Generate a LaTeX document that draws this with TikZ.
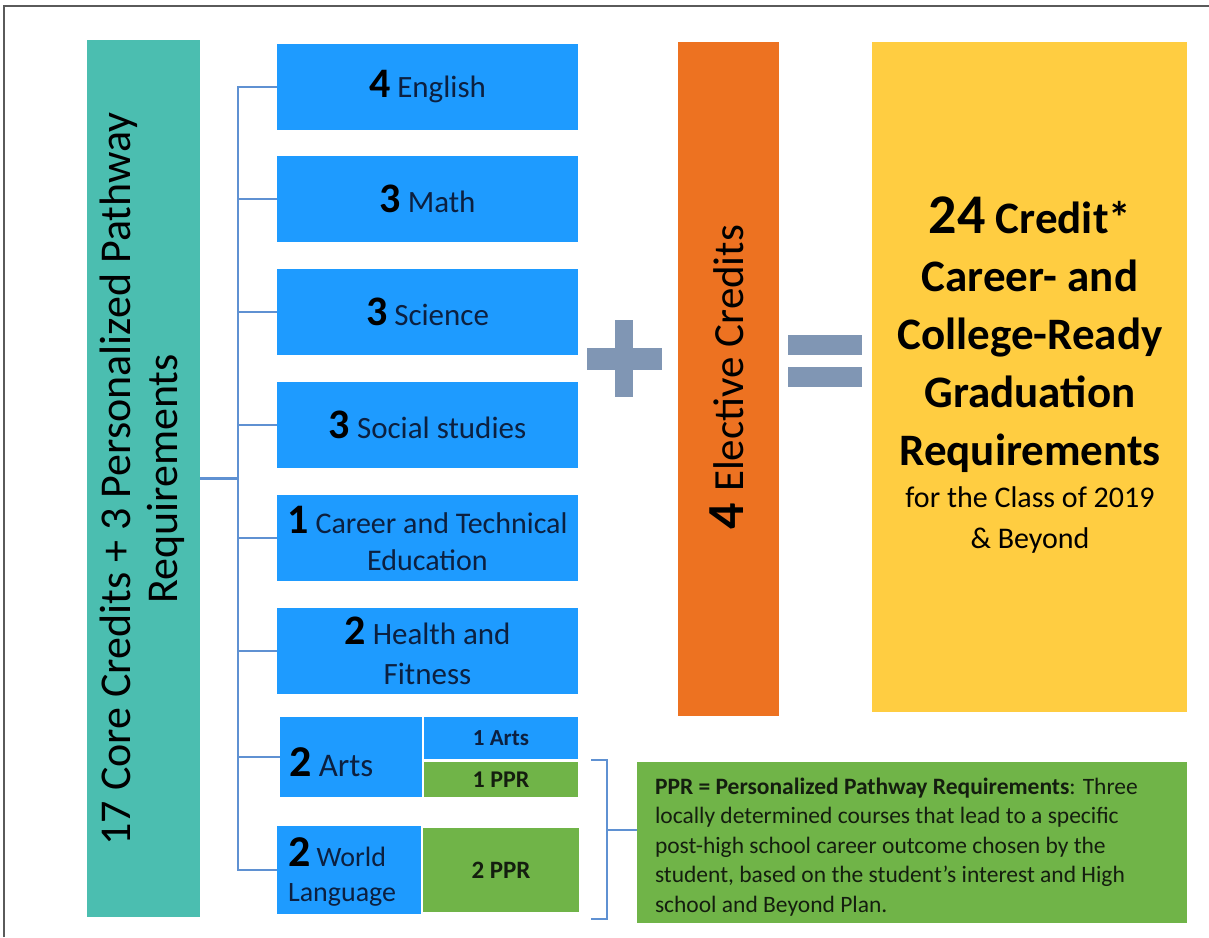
\documentclass[tikz,border=0pt]{standalone}
\usepackage{fontspec}
\setmainfont{Carlito}
\definecolor{tealbox}{RGB}{75,190,176}
\definecolor{bluebox}{RGB}{30,155,255}
\definecolor{orangebox}{RGB}{237,114,33}
\definecolor{yellowbox}{RGB}{255,205,65}
\definecolor{greenbox}{RGB}{112,180,72}
\definecolor{brk}{RGB}{95,145,210}
\definecolor{symc}{RGB}{128,150,180}
\definecolor{navy}{RGB}{12,32,64}
\definecolor{darktext}{RGB}{20,30,15}
\definecolor{framec}{RGB}{90,90,90}
\newcommand\fsz[2]{\fontsize{#1}{#2}\selectfont}
\newcommand\bignum[1]{{\fsz{42}{42}\bfseries\color{black}#1}}
\tikzset{
  box/.style={draw=none, inner sep=0pt, outer sep=0pt, align=center},
  bbox/.style={box, fill=bluebox, text=navy, font=\fsz{31}{38}},
  gbox/.style={box, fill=greenbox, text=darktext},
  brkline/.style={draw=brk, line width=2.8pt},
  sym/.style={fill=symc, draw=none},
}
\begin{document}
\begin{tikzpicture}[x=1pt,y=-1pt]
\useasboundingbox (0,0) rectangle (1209,937);
\fill[white] (0,0) rectangle (1209,937);
% frame
\draw[framec, line width=2pt] (4,937) -- (4,6) -- (1209,6);

% teal box
\node[box, fill=tealbox, minimum width=113pt, minimum height=877pt] (core) at (143.5,478.5) {};
\node[box, rotate=90, text=black, font=\fsz{44}{47}] (coretxt) at (142,479) {17 Core Credits + 3 Personalized Pathway\\Requirements};

% blue boxes
\node[bbox, minimum width=301pt, minimum height=86pt] (eng) at (427.5,87) {\bignum{4} English};
\node[bbox, minimum width=301pt, minimum height=86pt] (math) at (427.5,199) {\bignum{3} Math};
\node[bbox, minimum width=301pt, minimum height=86pt] (sci) at (427.5,312) {\bignum{3} Science};
\node[bbox, minimum width=301pt, minimum height=86pt] (soc) at (427.5,425) {\bignum{3} Social studies};
\node[bbox, minimum width=301pt, minimum height=86pt, font=\fsz{30}{37}] (cte) at (427.5,538) {\bignum{1} Career and Technical\\Education};
\node[bbox, minimum width=301pt, minimum height=86pt, font=\fsz{31}{40}] (hf) at (427.5,651) {\bignum{2} Health and\\Fitness};

% arts
\node[bbox, minimum width=142pt, minimum height=80pt] (arts) at (350.5,757) {};
\node[box, anchor=west, text=navy, font=\fsz{33}{38}] (artstxt) at (289,762) {{\fsz{44}{44}\bfseries\color{black}2} Arts};
\node[bbox, minimum width=154pt, minimum height=42pt, font=\fsz{23}{26}\bfseries] (artsa) at (501,738) {1 Arts};
\node[gbox, minimum width=154pt, minimum height=35pt, font=\fsz{24}{26}\bfseries] (artsp) at (501,779.5) {1 PPR};

% world language
\node[bbox, minimum width=144pt, minimum height=88pt] (wl) at (349,870) {};
\node[box, anchor=north west, align=left, text=navy, font=\fsz{28}{35}] (wltxt) at (288,838) {{\fsz{44}{44}\bfseries\color{black}2} World\\Language};
\node[gbox, minimum width=156pt, minimum height=84pt, font=\fsz{25}{28}\bfseries] (wlp) at (501,870) {2 PPR};

% main bracket
\coordinate (bt) at (238,88);
\coordinate (bb) at (238,870);
\draw[brkline] (eng.west) -- (eng.west -| bt) -- (bb) -- (wl.west);
\foreach \n in {math,sci,soc,cte,hf,arts}{
  \draw[brkline] (\n.west) -- (\n.west -| bt);
}
\draw[brkline] (core.east) -- (core.east -| bt);

% plus sign
\fill[sym] (587,348) rectangle (662,370);
\fill[sym] (615,320) rectangle (633,397);

% orange box
\node[box, fill=orangebox, minimum width=101pt, minimum height=674pt] (elec) at (728.5,379) {};
\node[box, rotate=90, text=black, font=\fsz{43}{48}] (electxt) at (727,377) {{\fsz{52}{52}\bfseries 4}\hspace{0.25em}Elective Credits};

% equals sign
\fill[sym] (788,335) rectangle (862,355);
\fill[sym] (788,367) rectangle (862,387);

% yellow box
\node[box, fill=yellowbox, minimum width=315pt, minimum height=670pt] (grad) at (1029.5,377) {};
\node[box, anchor=north, text=black, font=\fsz{45}{58}\bfseries] (gradtxt) at (1030,197) {{\fsz{56}{58}24} Credit*\\Career- and\\College-Ready\\Graduation\\Requirements};
\node[box, anchor=north, text=black, font=\fsz{30}{41}] (gradsub) at (1030,487) {for the Class of 2019\\\& Beyond};

% PPR note
\node[gbox, minimum width=550pt, minimum height=161pt] (note) at (912,842.5) {};
\node[box, anchor=west, align=left, text=darktext, font=\fsz{23.5}{29.5}] (notetxt) at (655,847) {\textbf{PPR = Personalized Pathway Requirements}: Three\\locally determined courses that lead to a specific\\post-high school career outcome chosen by the\\student, based on the student’s interest and High\\school and Beyond Plan.};

% second bracket
\coordinate (st) at (607,760);
\coordinate (sb) at (607,919);
\coordinate (sm) at (607,830);
\draw[brkline] (591,760) -- (st) -- (sb) -- (591,919);
\draw[brkline] (sm) -- (sm -| note.west);
\end{tikzpicture}
\end{document}
